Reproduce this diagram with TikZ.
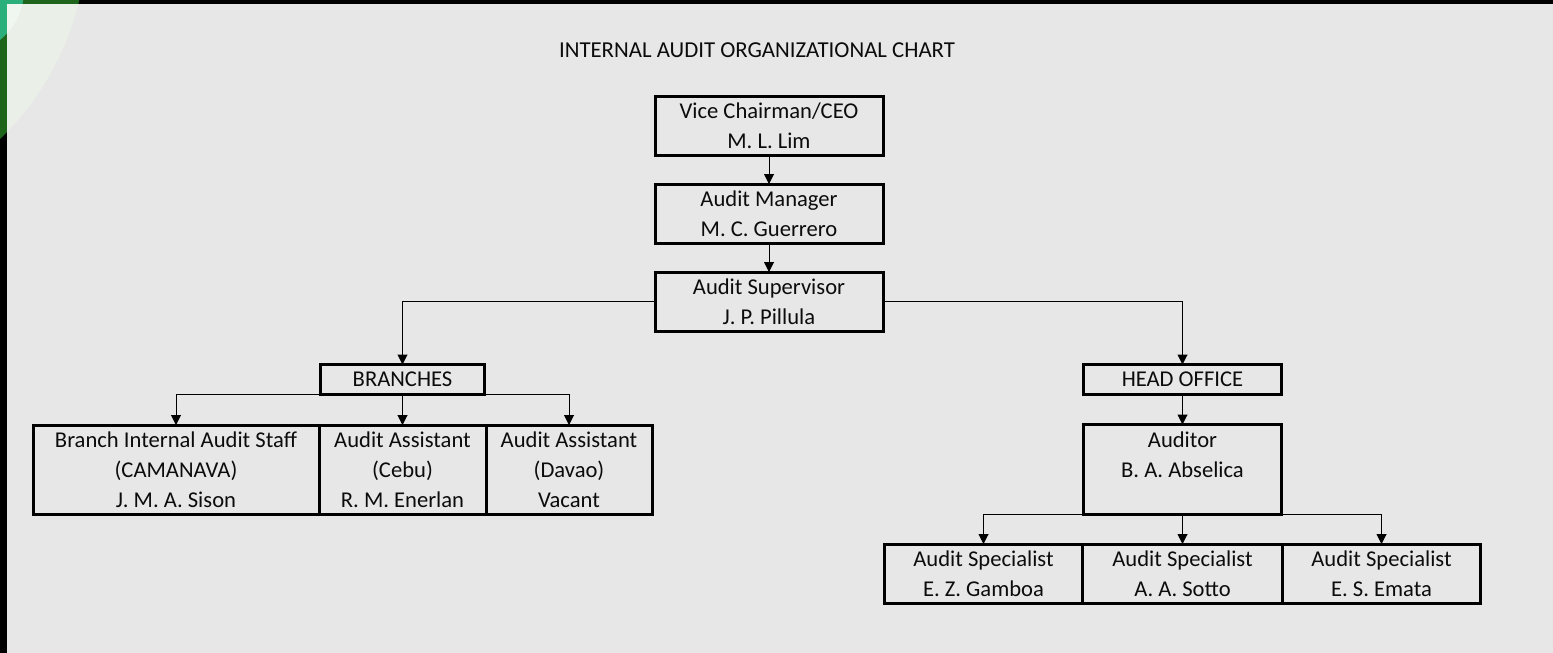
\documentclass[tikz,border=0pt]{standalone}
\usepackage{fontspec}
\setmainfont{Carlito}
\usetikzlibrary{positioning, arrows.meta}
\definecolor{slide_grey}{RGB}{231,231,231}
\definecolor{dark_green}{RGB}{30,100,26}
\definecolor{corner_teal}{RGB}{43,176,123}
\definecolor{pale_green}{RGB}{234,239,231}
\definecolor{pale_white}{RGB}{240,246,240}
\definecolor{ink}{RGB}{12,12,12}

\begin{document}
\begin{tikzpicture}[x=0.5pt, y=-0.5pt, >={Triangle[width=5pt, length=5pt]},
    box/.style={draw, rectangle, line width=1.5pt, outer sep=0pt, inner sep=0pt, align=center, text=ink, font=\fontsize{11.3}{15}\selectfont},
    link/.style={line width=0.5pt}]

    % --- Begin Background ---
    \useasboundingbox (0,0) rectangle (1553,653);
    \clip (0,0) rectangle (1553,653);
    \fill[black] (0,0) rectangle (1553,653);
    \fill[dark_green] (-198,-66) circle (285);
    \fill[corner_teal] (-40,-10) circle (64);
    \fill[slide_grey] (7,4) rectangle (1553,653);
    \begin{scope}
        \clip (7,4) rectangle (1553,653);
        \fill[pale_green] (-198,-66) circle (285);
        \fill[pale_white] (-40,-10) circle (64);
    \end{scope}
    % --- End Background ---

    \node [text=ink, font=\fontsize{11.4}{15}\selectfont] (Title) at (757,50) {INTERNAL AUDIT ORGANIZATIONAL CHART};

    % --- Begin Top Chain ---
    \node [box, minimum width=114pt, minimum height=29.5pt] (ViceChairman) at (769,125.5) {Vice Chairman/CEO\\M. L. Lim};
    \node [box, minimum width=114pt, minimum height=29.5pt, below=14.5pt of ViceChairman] (AuditManager) {Audit Manager\\M. C. Guerrero};
    \node [box, minimum width=114pt, minimum height=29.5pt, below=14.5pt of AuditManager] (AuditSupervisor) {Audit Supervisor\\J. P. Pillula};
    % --- End Top Chain ---

    % --- Begin Branches ---
    \node [box, minimum width=82pt, minimum height=15pt] (Branches) at (402.5,379.5) {BRANCHES};
    \node [box, minimum width=83.5pt, minimum height=44.5pt] (Cebu) at (402.5,469.5) {Audit Assistant\\(Cebu)\\R. M. Enerlan};
    \node [box, minimum width=143pt, minimum height=44.5pt, left=0pt of Cebu] (Camanava) {Branch Internal Audit Staff\\(CAMANAVA)\\J. M. A. Sison};
    \node [box, minimum width=83pt, minimum height=44.5pt, right=0pt of Cebu] (Davao) {Audit Assistant\\(Davao)\\Vacant};
    % --- End Branches ---

    % --- Begin Head Office ---
    \node [box, minimum width=99pt, minimum height=15pt] (HeadOffice) at (1182.5,379.5) {HEAD OFFICE};
    \node [box, minimum width=99pt, minimum height=45pt] (Auditor) at (1182.5,469.5) {Auditor\\B. A. Abselica\\\mbox{}};
    \node [box, minimum width=100pt, minimum height=29.5pt] (Sotto) at (1182.5,573.5) {Audit Specialist\\A. A. Sotto};
    \node [box, minimum width=99pt, minimum height=29.5pt, left=0pt of Sotto] (Gamboa) {Audit Specialist\\E. Z. Gamboa};
    \node [box, minimum width=99pt, minimum height=29.5pt, right=0pt of Sotto] (Emata) {Audit Specialist\\E. S. Emata};
    % --- End Head Office ---

    % Connect the nodes.
    \draw[link, ->] (ViceChairman) -- (AuditManager);
    \draw[link, ->] (AuditManager) -- (AuditSupervisor);
    \draw[link, ->] (AuditSupervisor.west) -| (Branches.north);
    \draw[link, ->] (AuditSupervisor.east) -| (HeadOffice.north);
    \draw[link, ->] (Branches.south west) -| (Camanava.north);
    \draw[link, ->] (Branches) -- (Cebu);
    \draw[link, ->] (Branches.south east) -| (Davao.north);
    \draw[link, ->] (HeadOffice) -- (Auditor);
    \draw[link, ->] (Auditor.south west) -| (Gamboa.north);
    \draw[link, ->] (Auditor) -- (Sotto);
    \draw[link, ->] (Auditor.south east) -| (Emata.north);

\end{tikzpicture}
\end{document}
